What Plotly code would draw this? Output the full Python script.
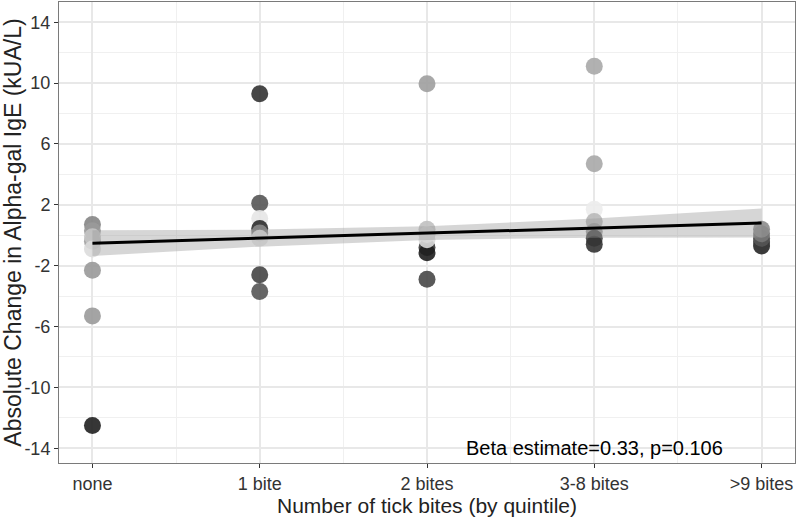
import plotly.graph_objects as go

# ---- data ----
categories = ["none", "1 bite", "2 bites", "3-8 bites", ">9 bites"]

none_vals = [0.7, 0.3, -0.4, -0.1, -0.9, -2.3, -5.3, -12.5]
none_cols = ["#858585", "#9a9a9a", "#a0a0a0", "#c4c4c4", "#dcdcdc", "#999999", "#9a9a9a", "#202020"]

one_vals = [9.3, 2.1, 1.1, 0.45, 0.15, -0.2, -2.6, -3.7]
one_cols = ["#333333", "#555555", "#e6e6e6", "#2e2e2e", "#8a8a8a", "#e8e8e8", "#454545", "#555555"]

two_vals = [9.95, -0.8, -1.15, -2.9, 0.4, 0.05, -0.3]
two_cols = ["#9e9e9e", "#3a3a3a", "#1e1e1e", "#474747", "#c0c0c0", "#cfcfcf", "#dadada"]

three_vals = [11.1, 4.7, 1.7, 0.9, 0.25, -0.2, -0.6]
three_cols = ["#a8a8a8", "#a8a8a8", "#ececec", "#b8b8b8", "#9a9a9a", "#444444", "#333333"]

nine_vals = [-0.7, -0.45, -0.2, 0.1, 0.4]
nine_cols = ["#262626", "#3a3a3a", "#555555", "#777777", "#8c8c8c"]

# fitted line and confidence band
band_x = [0, 1, 2, 3, 4]
band_upper = [0.32, 0.37, 0.59, 1.10, 1.75]
band_lower = [-1.36, -0.75, -0.31, -0.16, -0.15]
fit_x = [0, 4]
fit_y = [-0.52, 0.80]

annotation_text = "Beta estimate=0.33, p=0.106"
y_ticks = [-14, -10, -6, -2, 2, 6, 10, 14]
y_ticklabels = ["-14", "-10", "-6", "-2", "2", "6", "10", "14"]

groups = [none_vals, one_vals, two_vals, three_vals, nine_vals]
group_cols = [none_cols, one_cols, two_cols, three_cols, nine_cols]

FONT = "Liberation Sans, Arial, sans-serif"

fig = go.Figure()

for i, (vals, cols) in enumerate(zip(groups, group_cols)):
    fig.add_trace(go.Scatter(
        x=[i] * len(vals), y=vals, mode="markers",
        marker=dict(size=17, color=cols, opacity=0.9, line=dict(width=0)),
        showlegend=False, hoverinfo="skip"))

# confidence band
fig.add_trace(go.Scatter(
    x=band_x + band_x[::-1], y=band_upper + band_lower[::-1],
    fill="toself", fillcolor="rgba(153,153,153,0.4)", line=dict(width=0),
    mode="lines", showlegend=False, hoverinfo="skip"))

fig.add_trace(go.Scatter(
    x=fit_x, y=fit_y, mode="lines", line=dict(color="black", width=3),
    showlegend=False, hoverinfo="skip"))

fig.add_annotation(x=3, y=-14, text=annotation_text, showarrow=False,
                   font=dict(size=20, color="black", family=FONT),
                   xanchor="center", yanchor="middle")

axis_common = dict(
    showline=True, mirror=True, linecolor="#7a7a7a", linewidth=1,
    ticks="outside", ticklen=4, tickcolor="#333333", tickwidth=1,
    gridcolor="#e8e8e8", gridwidth=1.5, zeroline=False, automargin=False,
    tickfont=dict(size=18, color="#333333", family=FONT),
)

fig.update_xaxes(
    range=[-0.2, 4.2], tickvals=list(range(len(categories))), ticktext=categories,
    title=dict(text="Number of tick bites (by quintile)", font=dict(size=21, color="#222222", family=FONT), standoff=2),
    minor=dict(tickvals=[0.5, 1.5, 2.5, 3.5], showgrid=True, gridcolor="#f0f0f0", gridwidth=1, ticks=""),
    **axis_common)
fig.update_yaxes(
    range=[-14.97, 15.33], tickvals=y_ticks, ticktext=y_ticklabels,
    title=dict(text="Absolute Change in Alpha-gal IgE (kUA/L)", font=dict(size=23, color="#222222", family=FONT), standoff=0),
    minor=dict(tickvals=[-12, -8, -4, 0, 4, 8, 12], showgrid=True, gridcolor="#f0f0f0", gridwidth=1, ticks=""),
    **axis_common)

fig.update_layout(
    width=797, height=524,
    margin=dict(l=59, r=2, t=2, b=61),
    plot_bgcolor="white", paper_bgcolor="white",
    font=dict(family=FONT, color="#222222"),
)

fig.write_html("out.html", config={"displayModeBar": False},
               post_script="document.body.style.margin='0px';")
